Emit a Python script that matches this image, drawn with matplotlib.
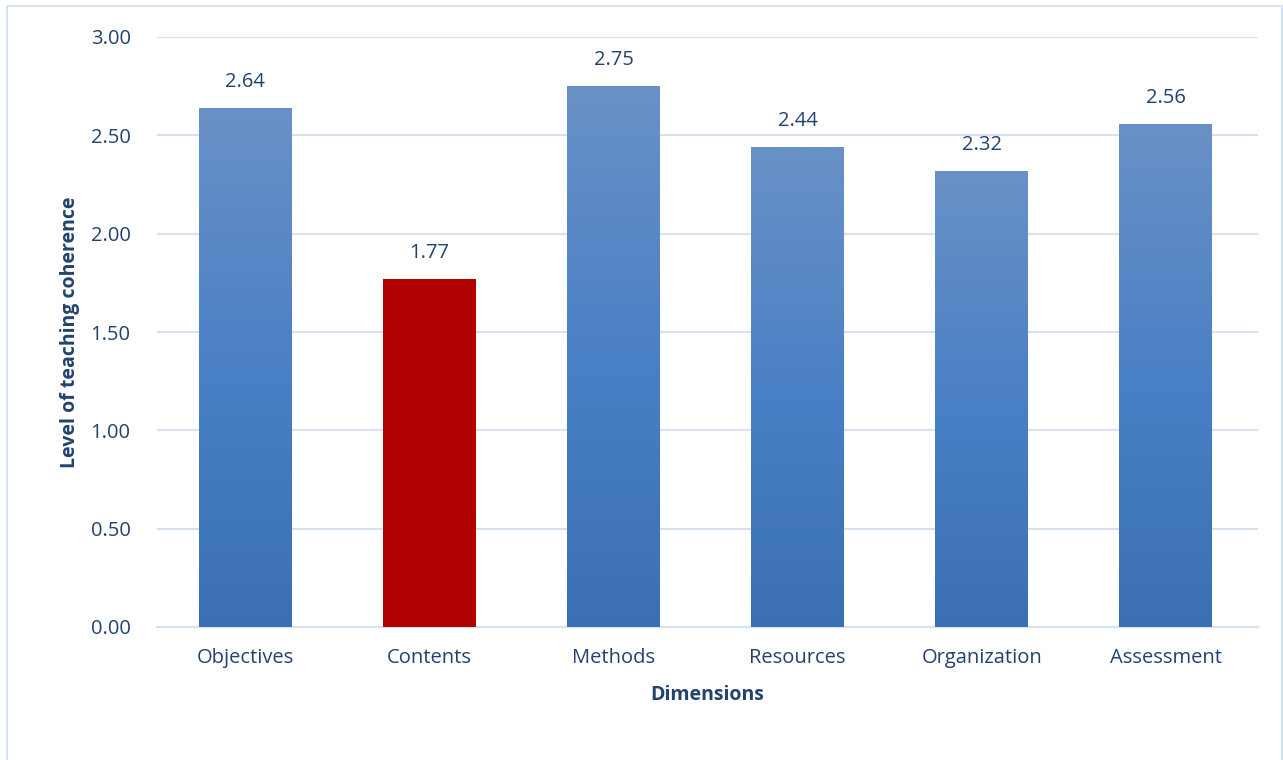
import numpy as np
import matplotlib.pyplot as plt
from matplotlib.patches import Rectangle
from matplotlib.colors import LinearSegmentedColormap

dimensions = ['Objectives', 'Contents', 'Methods', 'Resources', 'Organization', 'Assessment']
coherence = [2.64, 1.77, 2.75, 2.44, 2.32, 2.56]
highlight = 'Contents'
y_ticks = [0.0, 0.5, 1.0, 1.5, 2.0, 2.5, 3.0]

text_col = '#22426F'
grid_col = '#D6E1F1'
plt.rcParams['font.family'] = ['Open Sans', 'DejaVu Sans']

fig = plt.figure(figsize=(12.83, 7.60), dpi=100)
# light frame around the whole chart
fig.patches.append(Rectangle((7 / 1283, -0.01), 1275 / 1283, 1.0 - 6 / 760 + 0.01,
                             transform=fig.transFigure, fill=False,
                             edgecolor='#D6E1F1', linewidth=1.5))
ax = fig.add_axes([157 / 1283, 1 - 627 / 760, 1101 / 1283, 590 / 760])

x = np.arange(len(dimensions))
width = 0.505
bars = ax.bar(x, coherence, width=width, color='none', zorder=3)

# vertical gradient for blue bars, solid red for the highlighted one
grad = np.linspace(0, 1, 256).reshape(-1, 1)
cmap = LinearSegmentedColormap.from_list('bluegrad', ['#3A70B3', '#4A80C5', '#6A91C7'])
for bar, name, val in zip(bars, dimensions, coherence):
    x0 = bar.get_x()
    if name == highlight:
        bar.set_facecolor('#B00000')
    else:
        im = ax.imshow(grad, cmap=cmap, aspect='auto', origin='lower',
                       extent=[x0, x0 + width, 0, val], zorder=3)
        im.set_clip_path(bar)
    ax.text(bar.get_x() + width / 2, val + 0.08, f'{val:.2f}', ha='center', va='bottom',
            fontsize=14.5, color=text_col)

ax.set_xlim(-0.48, len(dimensions) - 0.5)
ax.set_ylim(0, 3.0)
ax.set_yticks(y_ticks)
ax.set_yticklabels([f'{t:.2f}' for t in y_ticks])
ax.set_xticks(x)
ax.set_xticklabels(dimensions)
ax.tick_params(axis='both', length=0, labelsize=14.5, colors=text_col)
ax.tick_params(axis='y', pad=19)
ax.tick_params(axis='x', pad=15)
ax.grid(axis='y', color=grid_col, linewidth=1.5, zorder=0)
ax.set_axisbelow(True)
for s in ['top', 'right', 'left']:
    ax.spines[s].set_visible(False)
ax.spines['bottom'].set_color(grid_col)
ax.spines['bottom'].set_linewidth(1.5)

ax.set_xlabel('Dimensions', fontsize=14, fontweight='bold', color=text_col, labelpad=12)
ax.set_ylabel('Level of teaching coherence', fontsize=14, fontweight='bold',
              color=text_col, labelpad=8)

fig.savefig('out.png', dpi=100)
